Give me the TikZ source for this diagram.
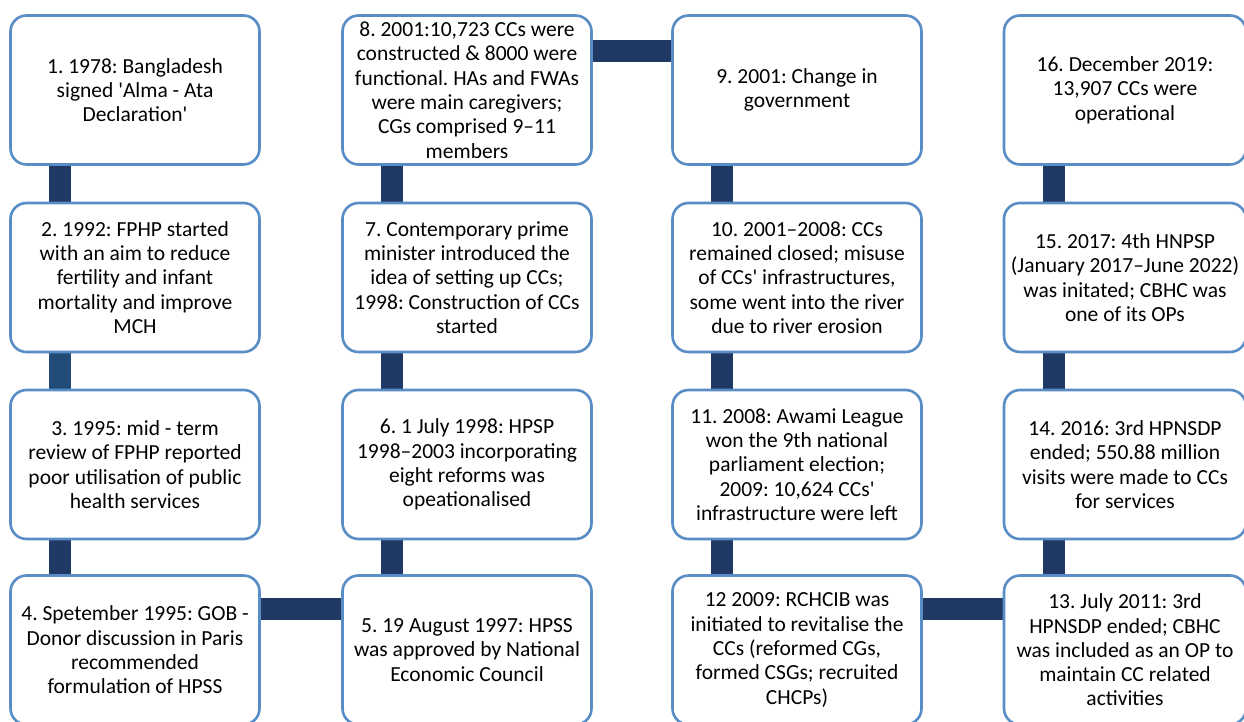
\documentclass[tikz,border=0pt]{standalone}
\usepackage{fontspec}
\setmainfont{Carlito}
\usetikzlibrary{backgrounds}
\definecolor{boxborder}{RGB}{88,141,198}
\definecolor{barnavy}{RGB}{31,56,100}
\definecolor{barblue}{RGB}{33,76,120}
\newcommand{\sq}{\textquotesingle}
\tikzset{
  tbox/.style={draw=boxborder, line width=2.6pt, fill=white, rounded corners=16pt,
    minimum height=149pt, align=center, inner sep=0pt,
    font=\fontsize{21.5}{24.3}\selectfont\frenchspacing},
  wbox/.style={tbox, minimum width=249pt},
  rbox/.style={tbox, minimum width=242pt},
  bar/.style={draw=barnavy, line width=22pt},
}
\begin{document}
\frenchspacing
\begin{tikzpicture}[x=1pt,y=-1pt]
\useasboundingbox (0,0) rectangle (1244,722);
\clip (0,0) rectangle (1244,722);
% column 1
\node[wbox] (b1) at (135,90) {1. 1978: Bangladesh\\signed \sq Alma - Ata\\Declaration\sq};
\node[wbox] (b2) at (135,277.5) {2. 1992: FPHP started\\with an aim to reduce\\fertility and infant\\mortality and improve\\MCH};
\node[wbox] (b3) at (135,464.5) {3. 1995: mid - term\\review of FPHP reported\\poor utilisation of public\\health services};
\node[wbox] (b4) at (135,650) {4. Spetember 1995: GOB -\\Donor discussion in Paris\\recommended\\formulation of HPSS};
% column 2
\node[wbox] (b8) at (467,90) {8. 2001:10,723 CCs were\\constructed \& 8000 were\\functional. HAs and FWAs\\were main caregivers;\\CGs comprised 9--11\\members};
\node[wbox] (b7) at (467,277.5) {7. Contemporary prime\\minister introduced the\\idea of setting up CCs;\\1998: Construction of CCs\\started};
\node[wbox] (b6) at (467,464.5) {6. 1 July 1998: HPSP\\1998--2003 incorporating\\eight reforms was\\opeationalised};
\node[wbox] (b5) at (467,650) {5. 19 August 1997: HPSS\\was approved by National\\Economic Council};
% column 3
\node[wbox] (b9) at (797,90) {9. 2001: Change in\\government};
\node[wbox] (b10) at (797,277.5) {10. 2001--2008: CCs\\remained closed; misuse\\of CCs\sq\ infrastructures,\\some went into the river\\due to river erosion};
\node[wbox] (b11) at (797,464.5) {11. 2008: Awami League\\won the 9th national\\parliament election;\\2009: 10,624 CCs\sq\\infrastructure were left};
\node[wbox] (b12) at (797,650) {12 2009: RCHCIB was\\initiated to revitalise the\\CCs (reformed CGs,\\formed CSGs; recruited\\CHCPs)};
% column 4
\node[rbox] (b16) at (1125,90) {16. December 2019:\\13,907 CCs were\\operational};
\node[rbox] (b15) at (1125,277.5) {15. 2017: 4th HNPSP\\(January 2017--June 2022)\\was initated; CBHC was\\one of its OPs};
\node[rbox] (b14) at (1125,464.5) {14. 2016: 3rd HPNSDP\\ended; 550.88 million\\visits were made to CCs\\for services};
\node[rbox] (b13) at (1125,650) {13. July 2011: 3rd\\HPNSDP ended; CBHC\\was included as an OP to\\maintain CC related\\activities};
\begin{scope}[on background layer]
  \fill[white] (0,0) rectangle (1244,722);
  % vertical bars
  \draw[bar] ([xshift=51pt]b1.south west) -- ([xshift=51pt]b2.north west);
  \draw[bar, draw=barblue] ([xshift=51pt]b2.south west) -- ([xshift=51pt]b3.north west);
  \draw[bar] ([xshift=51pt]b3.south west) -- ([xshift=51pt]b4.north west);
  \draw[bar] ([xshift=51pt]b8.south west) -- ([xshift=51pt]b7.north west);
  \draw[bar] ([xshift=51pt]b7.south west) -- ([xshift=51pt]b6.north west);
  \draw[bar] ([xshift=51pt]b6.south west) -- ([xshift=51pt]b5.north west);
  \draw[bar] ([xshift=51pt]b9.south west) -- ([xshift=51pt]b10.north west);
  \draw[bar] ([xshift=51pt]b10.south west) -- ([xshift=51pt]b11.north west);
  \draw[bar] ([xshift=51pt]b11.south west) -- ([xshift=51pt]b12.north west);
  \draw[bar] ([xshift=51pt]b16.south west) -- ([xshift=51pt]b15.north west);
  \draw[bar] ([xshift=51pt]b15.south west) -- ([xshift=51pt]b14.north west);
  \draw[bar] ([xshift=51pt]b14.south west) -- ([xshift=51pt]b13.north west);
  % horizontal bars
  \draw[bar] ([yshift=-35pt]b4.north east) -- ([yshift=-35pt]b5.north west);
  \draw[bar] ([yshift=-37pt]b8.north east) -- ([yshift=-37pt]b9.north west);
  \draw[bar] ([yshift=-35pt]b12.north east) -- ([yshift=-35pt]b13.north west);
\end{scope}
\end{tikzpicture}
\end{document}
